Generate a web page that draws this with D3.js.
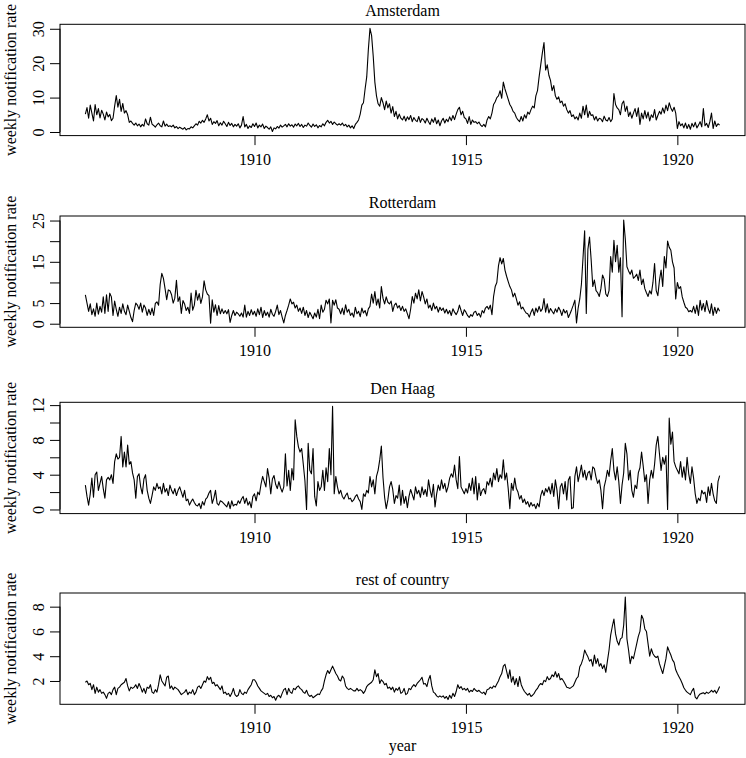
<!DOCTYPE html>
<html>
<head>
<meta charset="utf-8">
<script src="https://cdn.jsdelivr.net/npm/d3@7"></script>
<style>
  html, body { margin: 0; padding: 0; background: #fff; }
  svg { display: block; }
  text { font-family: "Liberation Serif", "Times New Roman", serif; font-size: 16px; fill: #000; }
</style>
</head>
<body>
<svg id="chart" width="746" height="758"></svg>
<script>
// ---------------- DATA (biweekly readings, 26 per year, 1906.0 .. 1921.0) ----------------
const startYear = 1906;
const pointsPerYear = 26;

const amsterdam = [
  5.2, 7.1, 4.0, 7.8, 5.5, 3.2, 8.0, 5.0, 6.8, 4.1, 6.3, 5.2, 3.5, 5.8, 4.4, 5.1, 3.3, 4.0, 7.5, 10.6, 7.2, 9.5, 6.0, 8.3, 5.5, 6.2,
  5.0, 2.8, 3.2, 2.5, 2.0, 2.6, 1.8, 2.3, 1.5, 2.2, 1.7, 3.8, 2.4, 2.0, 4.3, 2.3, 1.9, 1.4, 2.1, 2.6, 1.8, 1.5, 3.2, 1.7, 2.3, 1.6,
  1.8, 1.5, 2.0, 1.2, 1.6, 1.0, 1.4, 1.1, 0.8, 1.3, 0.6, 1.0, 0.9, 1.5, 1.2, 1.8, 2.4, 2.0, 3.1, 2.6, 3.4, 2.8, 3.8, 5.0, 3.2, 4.0,
  2.2, 3.0, 2.5, 3.3, 1.8, 2.7, 2.0, 3.1, 2.4, 1.6, 2.8, 1.9, 2.5, 1.5, 2.2, 1.7, 2.4, 1.2, 2.0, 4.5, 1.5, 2.2, 1.0, 1.8, 1.3, 2.4,
  1.6, 2.6, 1.2, 2.0, 1.5, 2.3, 1.0, 1.7, 1.3, 0.8, 1.5, 0.15, 1.2, 0.9, 1.6, 1.1, 2.0, 1.4, 1.8, 2.2, 1.5, 2.4, 1.7, 2.1, 1.4, 2.3,
  1.8, 2.5, 1.6, 2.2, 1.3, 2.0, 1.7, 2.6, 1.9, 1.4, 2.3, 1.6, 2.1, 1.2, 1.9, 1.5, 2.4, 1.8, 2.8, 3.4, 2.6, 3.1, 2.2, 2.9, 2.4, 2.0,
  2.4, 2.0, 2.6, 1.8, 2.2, 1.5, 2.0, 1.2, 1.8, 1.0, 2.2, 2.8, 3.5, 5.2, 7.8, 8.5, 12.5, 16.0, 24.0, 30.1, 28.0, 22.0, 14.5, 10.5, 8.2, 7.5,
  10.0, 8.5, 6.5, 9.0, 7.0, 8.2, 5.5, 7.4, 4.5, 6.0, 3.8, 5.2, 4.0, 3.5, 4.6, 3.2, 4.4, 3.6, 4.8, 3.0, 4.2, 3.4, 3.0, 4.5, 2.8, 3.9,
  3.5, 2.6, 4.0, 3.0, 2.2, 3.8, 2.8, 4.2, 2.4, 3.5, 1.8, 3.2, 4.0, 2.6, 3.7, 3.0, 4.4, 3.3, 4.8, 3.6, 5.2, 6.5, 7.2, 5.0, 6.0, 4.2,
  3.8, 2.5, 4.5, 2.2, 3.5, 2.8, 3.0, 2.4, 2.9, 2.0, 1.6, 2.2, 1.5, 3.5, 4.5, 3.8, 5.5, 8.0, 8.8, 10.0, 10.5, 12.0, 9.8, 14.5, 12.5, 11.0,
  9.5, 8.0, 7.2, 6.0, 5.5, 4.2, 3.5, 3.0, 4.5, 3.2, 5.0, 4.0, 5.8, 5.2, 6.5, 7.5, 7.0, 10.5, 12.0, 16.0, 19.5, 23.0, 26.0, 18.0, 19.5, 16.5,
  15.0, 12.0, 13.5, 10.5, 9.5, 10.2, 8.5, 9.0, 7.5, 8.2, 6.5, 5.5, 6.2, 4.5, 5.0, 3.8, 4.4, 3.5, 5.5, 4.0, 7.5, 5.0, 7.8, 4.2, 6.0, 4.8,
  5.0, 3.5, 4.5, 3.2, 4.0, 3.8, 3.0, 4.6, 3.5, 3.2, 4.2, 3.0, 3.8, 11.2, 8.0, 7.0, 6.5, 5.0, 8.2, 9.0, 6.0, 7.5, 4.5, 5.8, 4.0, 5.5,
  6.8, 4.5, 7.0, 2.2, 5.5, 3.8, 6.2, 4.0, 5.8, 3.2, 5.0, 4.2, 6.5, 3.5, 4.8, 6.0, 5.2, 7.0, 5.5, 7.8, 6.2, 8.5, 7.0, 6.0, 7.2, 5.5,
  1.0, 3.0, 1.8, 2.4, 1.2, 2.6, 1.0, 2.2, 0.8, 2.5, 1.5, 2.8, 1.2, 2.0, 3.0, 1.5, 6.8, 1.8, 2.5, 1.3, 3.0, 5.5, 1.0, 3.2, 1.6, 2.4,
  2.0
];

const rotterdam = [
  7.0, 5.0, 3.0, 4.8, 2.2, 3.6, 1.8, 5.0, 2.3, 4.2, 2.8, 6.5, 2.5, 7.0, 3.0, 7.4, 6.5, 2.0, 5.5, 3.5, 1.8, 4.0, 2.5, 4.8, 3.0, 2.2,
  4.5, 3.0, 1.5, 0.5, 3.2, 5.0, 4.5, 3.5, 5.0, 2.8, 4.5, 3.8, 2.0, 3.5, 2.2, 3.8, 2.0, 4.9, 5.3, 4.5, 9.5, 12.2, 11.0, 8.5, 5.8, 8.2,
  8.0, 7.0, 5.0, 6.2, 10.5, 5.4, 6.5, 2.5, 5.6, 4.8, 3.2, 4.0, 2.5, 7.4, 3.3, 4.5, 8.1, 5.7, 7.3, 4.9, 6.5, 10.4, 8.2, 7.2, 6.8, 0.13,
  5.8, 2.8, 4.6, 2.0, 4.4, 2.4, 3.6, 2.5, 3.2, 2.4, 3.4, 0.3, 2.0, 3.2, 2.0, 2.8, 2.4, 1.8, 2.6, 1.6, 4.5, 1.6, 3.0, 2.0, 3.4, 2.2,
  3.0, 1.8, 3.6, 2.2, 4.0, 1.5, 3.2, 2.0, 2.8, 1.6, 3.5, 2.3, 1.8, 3.0, 4.5, 2.2, 3.2, 1.6, 0.2, 2.0, 3.2, 4.5, 6.0, 4.8, 5.2, 3.8,
  4.5, 3.0, 3.8, 2.5, 4.0, 2.0, 3.2, 1.5, 2.8, 2.0, 1.2, 2.6, 1.6, 3.5, 1.2, 4.5, 2.8, 3.5, 5.7, 4.8, 6.0, 0.2, 5.7, 4.5, 5.8, 3.8,
  3.5, 2.4, 3.8, 2.2, 4.6, 2.8, 3.5, 2.0, 2.6, 1.6, 4.0, 2.4, 3.0, 1.7, 3.8, 2.6, 3.2, 1.9, 3.6, 4.2, 7.2, 5.0, 7.8, 4.5, 6.0, 3.8,
  9.0, 6.2, 4.8, 6.5, 5.2, 4.8, 5.5, 3.0, 4.5, 5.0, 3.8, 4.4, 3.2, 4.2, 3.0, 3.6, 2.4, 1.2, 3.5, 6.6, 5.0, 7.4, 6.0, 8.2, 5.5, 7.8,
  6.5, 4.8, 6.0, 3.8, 4.5, 3.2, 5.0, 3.6, 4.2, 2.8, 4.0, 3.2, 3.8, 2.6, 3.5, 2.4, 3.2, 2.0, 3.6, 2.8, 2.2, 3.0, 4.5, 3.2, 2.0, 3.4,
  2.8, 2.0, 1.5, 2.2, 1.8, 2.8, 3.0, 2.0, 2.5, 1.6, 3.2, 2.6, 3.8, 4.2, 3.5, 4.5, 2.2, 6.6, 9.0, 10.0, 14.0, 16.0, 14.5, 15.8, 13.0, 11.5,
  10.2, 9.0, 8.2, 6.5, 7.4, 6.0, 4.5, 5.3, 3.6, 4.0, 3.2, 2.6, 2.4, 1.6, 2.8, 3.6, 2.0, 3.8, 2.8, 4.2, 3.0, 3.6, 6.1, 2.8, 4.8, 2.6,
  3.7, 3.0, 2.4, 3.6, 2.8, 4.0, 3.2, 2.0, 3.5, 2.6, 3.2, 1.5, 2.4, 3.4, 4.5, 5.7, 0.2, 3.8, 6.0, 9.5, 16.0, 22.5, 2.5, 18.0, 21.0, 15.5,
  9.0, 10.6, 8.0, 7.5, 6.6, 8.5, 11.8, 10.8, 7.2, 6.6, 8.0, 16.3, 12.5, 20.2, 15.0, 19.0, 12.5, 16.0, 1.7, 25.1, 20.5, 13.8, 12.8, 12.0, 13.0, 11.0,
  11.4, 12.0, 10.5, 13.0, 9.5, 10.8, 8.5, 7.5, 6.6, 8.0, 7.2, 10.0, 14.6, 8.0, 6.8, 10.5, 13.0, 9.0, 16.3, 13.5, 20.0, 18.5, 17.8, 15.0, 13.5, 6.0,
  10.0, 8.5, 9.0, 6.5, 5.2, 4.0, 3.7, 2.9, 3.2, 2.8, 4.2, 2.5, 4.5, 2.0, 5.7, 3.3, 4.9, 2.9, 5.6, 3.6, 2.5, 4.8, 2.0, 4.0, 2.5, 3.8,
  3.0
];

const denHaag = [
  2.8, 1.5, 0.5, 1.8, 3.6, 1.4, 4.0, 4.3, 2.2, 3.0, 3.8, 2.4, 1.3, 3.4, 3.7, 3.4, 4.0, 3.0, 5.5, 6.4, 5.8, 6.0, 8.4, 4.9, 6.6, 4.9,
  7.4, 5.2, 5.5, 4.2, 3.4, 1.3, 3.8, 4.1, 2.6, 1.8, 3.5, 4.0, 2.2, 1.3, 0.7, 1.6, 2.6, 2.2, 3.0, 2.4, 2.6, 1.8, 3.0, 2.0, 2.4, 1.6,
  2.8, 2.2, 1.8, 2.4, 1.6, 2.2, 2.6, 2.0, 1.4, 2.2, 1.0, 1.2, 0.5, 0.9, 1.2, 0.8, 0.5, 0.4, 0.7, 0.1, 0.9, 0.5, 1.2, 1.4, 1.9, 2.2,
  0.7, 1.3, 2.2, 0.7, 0.5, 1.0, 0.9, 0.7, 0.5, 0.3, 0.9, 0.1, 1.0, 0.4, 0.6, 0.5, 1.0, 0.7, 1.2, 1.5, 0.7, 1.3, 0.5, 0.9, 0.2, 1.5,
  1.8, 1.0, 2.0, 1.7, 2.9, 3.8, 3.2, 2.6, 4.7, 3.6, 1.8, 3.5, 3.9, 2.9, 2.4, 3.2, 2.5, 2.0, 2.6, 6.4, 2.7, 4.5, 2.2, 4.7, 3.4, 10.3,
  8.4, 7.2, 6.6, 7.0, 5.2, 3.3, 0.0, 7.6, 4.5, 4.1, 7.0, 1.5, 0.4, 3.2, 2.2, 2.6, 4.5, 2.2, 4.8, 3.2, 7.0, 4.0, 11.85, 1.8, 3.8, 2.6,
  1.8, 2.2, 1.5, 1.2, 1.6, 1.9, 1.2, 1.3, 0.9, 1.1, 1.5, 1.7, 1.2, 0.9, 0.0, 1.8, 1.5, 2.2, 1.9, 3.8, 2.6, 3.4, 1.8, 3.8, 4.5, 5.7,
  7.3, 3.7, 1.4, 0.1, 1.1, 2.6, 3.2, 2.3, 0.7, 1.6, 1.3, 2.8, 0.5, 2.2, 0.7, 1.5, 0.2, 1.5, 2.3, 1.7, 1.1, 2.6, 1.8, 2.2, 1.4, 2.6,
  1.7, 2.3, 1.5, 3.4, 2.2, 1.4, 2.9, 0.3, 1.8, 2.8, 2.2, 3.4, 2.4, 3.0, 2.0, 2.6, 3.6, 4.1, 3.7, 5.1, 3.4, 2.4, 6.1, 2.6, 2.2, 1.8,
  2.4, 1.9, 3.0, 2.2, 3.6, 1.8, 3.8, 1.1, 3.0, 1.6, 2.2, 2.4, 1.8, 3.2, 2.8, 3.6, 2.6, 4.2, 3.4, 4.7, 3.2, 4.0, 3.6, 5.7, 3.4, 4.2,
  2.4, 0.1, 3.0, 2.2, 3.6, 2.4, 2.0, 1.2, 1.6, 0.8, 1.2, 0.6, 0.9, 0.3, 0.8, 0.4, 0.6, 0.1, 0.7, 0.3, 1.6, 2.2, 1.6, 2.4, 2.0, 2.6,
  1.8, 3.0, 1.5, 3.4, 2.2, 0.1, 2.6, 3.0, 1.8, 3.2, 1.1, 3.4, 3.8, 0.1, 0.2, 3.8, 4.9, 3.2, 4.1, 5.1, 3.7, 4.5, 3.4, 4.2, 4.4, 3.4,
  4.9, 4.7, 3.7, 3.0, 3.4, 2.2, 0.1, 2.6, 3.4, 4.5, 3.8, 5.6, 7.0, 4.5, 3.4, 4.9, 3.2, 0.7, 2.8, 4.2, 7.6, 6.4, 3.4, 4.5, 2.2, 1.4,
  2.8, 2.4, 4.2, 4.8, 6.6, 5.0, 3.2, 4.0, 0.7, 3.4, 4.5, 3.6, 5.2, 7.4, 8.4, 6.4, 4.5, 6.0, 5.2, 6.2, 0.0, 10.5, 7.5, 8.9, 5.5, 4.9,
  4.5, 4.1, 5.5, 3.7, 4.9, 3.4, 6.0, 4.1, 3.0, 4.9, 3.6, 1.8, 0.7, 1.3, 1.0, 2.2, 1.8, 2.0, 0.8, 2.6, 1.6, 3.0, 1.8, 1.0, 0.7, 3.2,
  3.9
];

const restOfCountry = [
  1.9, 2.0, 1.7, 1.8, 1.3, 1.7, 1.0, 1.5, 1.1, 1.3, 1.0, 1.1, 0.9, 0.6, 1.0, 1.1, 0.9, 1.3, 1.5, 0.9, 1.4, 1.5, 1.7, 1.8, 1.9, 2.2,
  1.6, 1.2, 1.5, 1.4, 1.5, 1.7, 1.4, 1.8, 1.5, 1.1, 1.4, 1.0, 1.5, 1.4, 1.7, 1.1, 1.0, 1.3, 1.1, 1.7, 2.5, 2.0, 1.8, 1.6, 2.3, 2.4,
  1.4, 1.6, 1.3, 1.5, 1.4, 1.3, 1.1, 0.9, 1.0, 1.1, 1.3, 0.9, 1.1, 1.0, 1.3, 0.9, 1.1, 1.5, 1.6, 1.4, 1.7, 2.0, 1.9, 2.35, 2.1, 2.3,
  1.8, 1.9, 1.6, 1.7, 1.5, 1.3, 1.6, 1.0, 1.1, 0.9, 1.0, 0.75, 1.0, 1.4, 0.9, 0.75, 0.85, 1.3, 1.0, 0.9, 1.1, 1.0, 1.3, 1.5, 1.7, 2.1,
  2.1, 1.9, 1.6, 1.4, 1.2, 1.1, 1.0, 0.9, 1.0, 0.75, 0.85, 0.65, 0.75, 0.45, 0.75, 0.85, 0.65, 1.0, 1.3, 1.4, 0.9, 1.4, 1.1, 1.0, 1.4, 1.3,
  1.5, 1.6, 1.4, 1.3, 1.1, 1.0, 1.25, 0.9, 0.75, 0.85, 0.65, 0.75, 0.85, 0.95, 0.9, 1.2, 1.4, 2.0, 2.5, 2.85, 2.6, 2.9, 3.2, 2.9, 2.6, 2.4,
  2.1, 2.0, 2.4, 2.2, 1.6, 1.4, 1.3, 1.4, 1.3, 1.2, 1.2, 1.4, 1.2, 1.3, 1.2, 1.0, 1.2, 1.55, 1.7, 1.8, 1.9, 2.1, 2.9, 2.35, 2.6, 1.8,
  2.1, 1.95, 1.7, 1.8, 1.4, 1.5, 1.3, 1.5, 1.1, 1.4, 1.25, 1.5, 1.0, 1.1, 1.4, 0.9, 1.0, 1.4, 1.3, 1.55, 1.7, 1.55, 1.8, 1.95, 2.1, 2.3,
  1.75, 1.8, 1.55, 2.1, 2.45, 1.6, 1.1, 1.0, 0.8, 0.7, 0.8, 0.7, 0.8, 0.6, 0.75, 0.5, 0.85, 0.6, 1.0, 0.75, 1.15, 1.7, 1.4, 1.55, 1.3, 1.4,
  1.25, 1.4, 1.1, 1.25, 1.15, 1.4, 1.25, 1.15, 1.25, 1.1, 1.0, 1.1, 0.9, 1.3, 1.35, 1.5, 1.4, 1.6, 1.5, 1.75, 2.0, 2.35, 2.6, 3.2, 3.35, 2.8,
  2.2, 2.9, 1.9, 2.35, 1.7, 2.2, 1.55, 2.35, 1.7, 1.4, 1.15, 1.0, 0.85, 1.0, 0.75, 0.85, 1.0, 1.25, 1.4, 1.65, 1.8, 1.7, 2.05, 1.95, 2.35, 2.1,
  2.2, 2.5, 2.35, 2.75, 2.3, 2.6, 2.1, 2.2, 2.0, 1.75, 1.5, 1.45, 1.4, 1.5, 1.6, 1.9, 2.2, 2.35, 3.15, 3.4, 3.8, 4.5, 4.2, 3.95, 3.6, 3.75,
  3.2, 4.1, 3.4, 3.8, 3.2, 3.4, 3.0, 3.3, 2.7, 3.6, 4.5, 5.7, 6.4, 7.0, 5.8, 5.2, 4.9, 5.4, 5.5, 6.5, 8.77, 5.4, 4.5, 3.4, 4.0, 3.8,
  4.4, 5.0, 5.6, 6.0, 7.3, 7.0, 6.2, 6.0, 5.0, 4.0, 4.6, 4.2, 4.0, 3.9, 4.0, 3.4, 3.0, 2.6, 3.2, 3.8, 4.75, 4.4, 4.1, 3.7, 3.5, 2.9,
  2.6, 2.35, 2.1, 1.8, 1.45, 1.25, 1.1, 1.0, 0.9, 1.2, 1.4, 0.7, 0.55, 0.8, 0.95, 1.0, 1.05, 0.95, 1.1, 1.0, 1.1, 1.25, 1.1, 1.25, 1.0, 1.25,
  1.55
];

const panelTitles = ["Amsterdam", "Rotterdam", "Den Haag", "rest of country"];
const seriesList = [amsterdam, rotterdam, denHaag, restOfCountry];
const yTickValues = [[0, 10, 20, 30], [0, 5, 10, 15, 20, 25], [0, 2, 4, 6, 8, 10, 12], [2, 4, 6, 8]];
const yTickLabels = [["0", "10", "20", "30"], ["0", "", "", "15", "", "25"].map((d, i) => i === 2 ? "" : d), ["0", "", "4", "", "8", "", "12"], ["2", "4", "6", "8"]];
// Rotterdam labels: 0, 5, 15, 25 (10 and 20 suppressed)
yTickLabels[1] = ["0", "5", "", "15", "", "25"];
const xTickYears = [1910, 1915, 1920];
const yAxisTitle = "weekly notification rate";
const xAxisTitle = "year";

// ---------------- LAYOUT ----------------
const svg = d3.select("#chart");
svg.append("rect").attr("width", 746).attr("height", 758).attr("fill", "#fff");

const plotLeft = 60, plotRight = 745;
const boxTops = [24.3, 216, 402.3, 593];
const boxHeight = 111.3;

const firstYear = startYear;
const lastYear = startYear + (amsterdam.length - 1) / pointsPerYear;
const xPad = (lastYear - firstYear) * 0.04;
const x = d3.scaleLinear().domain([firstYear - xPad, lastYear + xPad]).range([plotLeft, plotRight]);

seriesList.forEach((series, p) => {
  const top = boxTops[p], bottom = top + boxHeight;
  const [mn, mx] = d3.extent(series);
  const pad = (mx - mn) * 0.04;
  const y = d3.scaleLinear().domain([mn - pad, mx + pad]).range([bottom, top]);
  const g = svg.append("g");

  // data line
  const pts = series.map((v, i) => [startYear + i / pointsPerYear, v]);
  g.append("path")
    .datum(pts)
    .attr("fill", "none")
    .attr("stroke", "#000")
    .attr("stroke-width", 1.1)
    .attr("stroke-linejoin", "round")
    .attr("d", d3.line().x(d => x(d[0])).y(d => y(d[1])));

  // box
  g.append("rect")
    .attr("x", plotLeft).attr("y", top)
    .attr("width", plotRight - plotLeft).attr("height", boxHeight)
    .attr("fill", "none").attr("stroke", "#000").attr("stroke-width", 1);

  // x axis
  const xAxis = d3.axisBottom(x).tickValues(xTickYears).tickSize(9.5).tickPadding(6).tickFormat(d3.format("d"));
  const gx = g.append("g").attr("transform", `translate(0,${bottom})`).call(xAxis);
  gx.select(".domain").remove();
  gx.selectAll("line").attr("stroke", "#000");
  gx.selectAll("text").attr("font-size", 16).attr("font-family", "Liberation Serif, Times New Roman, serif")
    .attr("dy", null).attr("y", 29).attr("fill", "#000");

  // y axis
  const yAxis = d3.axisLeft(y).tickValues(yTickValues[p]).tickSize(10)
    .tickFormat((d, i) => yTickLabels[p][i]);
  const gy = g.append("g").attr("transform", `translate(${plotLeft},0)`).call(yAxis);
  gy.select(".domain").attr("d", `M-10,${y(yTickValues[p][0])}H0V${y(yTickValues[p][yTickValues[p].length - 1])}H-10`).attr("stroke", "none");
  gy.selectAll("line").attr("stroke", "#000");
  gy.selectAll("text")
    .attr("font-size", 16).attr("font-family", "Liberation Serif, Times New Roman, serif")
    .attr("fill", "#000")
    .attr("x", null).attr("dy", null).attr("y", null)
    .attr("text-anchor", "middle")
    .attr("transform", "translate(-16.5,0) rotate(-90)");

  // y axis line along the tick range (coincides with box)
  g.append("line")
    .attr("x1", plotLeft).attr("x2", plotLeft)
    .attr("y1", y(yTickValues[p][0])).attr("y2", y(yTickValues[p][yTickValues[p].length - 1]))
    .attr("stroke", "#000");

  // title
  g.append("text")
    .attr("x", (plotLeft + plotRight) / 2).attr("y", top - 8)
    .attr("text-anchor", "middle")
    .text(panelTitles[p]);

  // y axis title
  const cy = (top + bottom) / 2;
  g.append("text")
    .attr("transform", `translate(15.5,${cy}) rotate(-90)`)
    .attr("text-anchor", "middle")
    .text(yAxisTitle);
});

// x axis title
svg.append("text")
  .attr("x", (plotLeft + plotRight) / 2).attr("y", 751)
  .attr("text-anchor", "middle")
  .text(xAxisTitle);
</script>
</body>
</html>
